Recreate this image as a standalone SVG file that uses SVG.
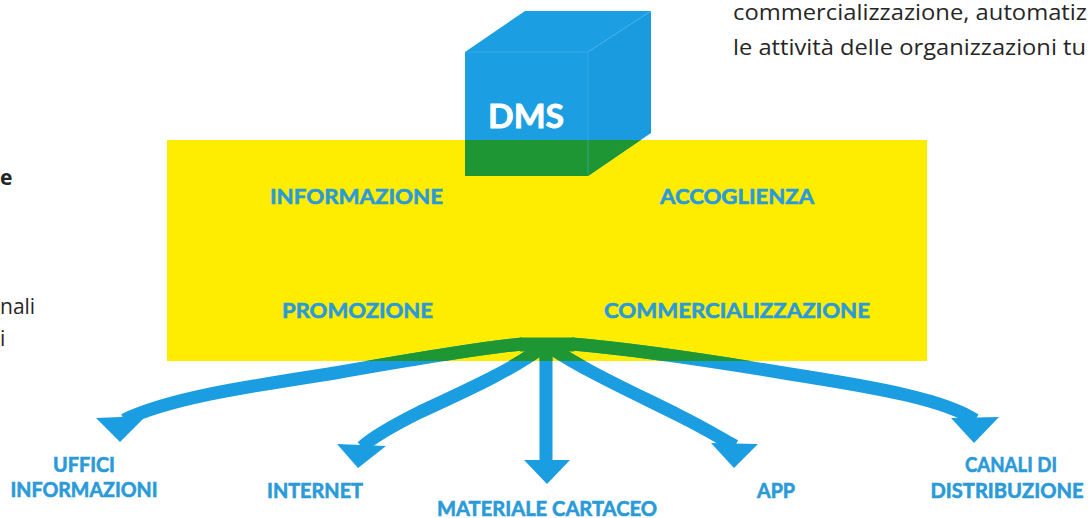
<svg xmlns="http://www.w3.org/2000/svg" width="1089" height="518" viewBox="0 0 1089 518">
  <style>
    .body { font-family: "Open Sans", "Liberation Sans", sans-serif; font-size: 21px; fill: #262626; }
    .lbl { font-family: Lato, "Liberation Sans", sans-serif; font-weight: bold; fill: #2a9ad8; stroke: #2a9ad8; stroke-width: 0.6; font-variant-ligatures: none; }
    .in { font-size: 21px; }
    .out { font-size: 20px; }
    .arm { fill: none; stroke: #1b9de1; stroke-width: 13; stroke-linecap: butt; }
    .armg { fill: none; stroke: #1e9634; stroke-width: 13; }
    .head { fill: #1b9de1; }
  </style>
  <defs>
    <clipPath id="yc"><rect x="167" y="140" width="760" height="221"/></clipPath>
  </defs>
  <rect width="1089" height="518" fill="#ffffff"/>

  <!-- background text fragments -->
  <g id="text-fragments">
    <text class="body" x="733" y="20" textLength="354" lengthAdjust="spacingAndGlyphs">commercializzazione, automatiz</text>
    <text class="body" x="733" y="55" textLength="353" lengthAdjust="spacingAndGlyphs">le attività delle organizzazioni tu</text>
    <text class="body" x="0" y="185" font-weight="bold">e</text>
    <text class="body" x="0" y="314">nali</text>
    <text class="body" x="0" y="346">i</text>
  </g>

  <!-- yellow functions block -->
  <g id="functions">
    <rect x="167" y="140" width="760" height="221" fill="#ffed00"/>
  </g>

  <!-- DMS cube -->
  <g id="dms">
    <polygon points="465,52 525,11 651,11 588,52" fill="#1c9ee3"/>
    <polygon points="588,52 651,11 651,133 588,176" fill="#1a9be0"/>
    <rect x="465" y="52" width="123" height="124" fill="#1c9ee3"/>
    <g clip-path="url(#yc)" fill="#1f9634">
      <rect x="465" y="52" width="123" height="124"/>
      <polygon points="588,52 651,11 651,133 588,176"/>
    </g>
    <polyline points="465,52 588,52 651,11" fill="none" stroke="#4db6ee" stroke-width="0.8" opacity="0.6"/>
    <line x1="588" y1="52" x2="588" y2="176" stroke="#4db6ee" stroke-width="0.8" opacity="0.6"/>
    <text x="526" y="128" text-anchor="middle" font-family="Lato, 'Liberation Sans', sans-serif" font-weight="bold" font-size="32" fill="#ffffff" stroke="#ffffff" stroke-width="0.8" textLength="76" lengthAdjust="spacingAndGlyphs">DMS</text>
  </g>

  <g id="label-informazione"><text class="lbl in" x="270" y="204" textLength="173" lengthAdjust="spacingAndGlyphs">INFORMAZIONE</text></g>
  <g id="label-accoglienza"><text class="lbl in" x="660" y="204" textLength="154" lengthAdjust="spacingAndGlyphs">ACCOGLIENZA</text></g>
  <g id="label-promozione"><text class="lbl in" x="282" y="318" textLength="151" lengthAdjust="spacingAndGlyphs">PROMOZIONE</text></g>
  <g id="label-commercializzazione"><text class="lbl in" x="604" y="318" textLength="266" lengthAdjust="spacingAndGlyphs">COMMERCIALIZZAZIONE</text></g>

  <!-- connectors -->
  <g id="connectors">
    <g id="arms-blue">
      <path class="arm" d="M522,344 C480,348 420,358 335,373 C245,387 170,398 124,420"/>
      <path class="arm" d="M546,344 C520,366 470,389 420,412 C392,426 374,436 362,447"/>
      <path class="arm" d="M546,342 L546,462"/>
      <path class="arm" d="M546,344 C575,366 630,391 680,416 C708,430 722,439 735,446"/>
      <path class="arm" d="M572,344 C620,348 700,359 790,374 C880,388 945,400 975,420"/>
    </g>
    <g id="arms-green" clip-path="url(#yc)">
      <path class="armg" d="M522,344 C480,348 420,358 335,373 C245,387 170,398 124,420"/>
      <path class="armg" d="M546,344 C520,366 470,389 420,412 C392,426 374,436 362,447"/>
      <path class="armg" d="M546,342 L546,462"/>
      <path class="armg" d="M546,344 C575,366 630,391 680,416 C708,430 722,439 735,446"/>
      <path class="armg" d="M572,344 C620,348 700,359 790,374 C880,388 945,400 975,420"/>
      <rect x="520" y="337.5" width="54" height="14" fill="#1e9634"/>
    </g>
    <polygon class="head" points="96,418 146,416 120,442"/>
    <polygon class="head" points="337,444 386,446 358,468"/>
    <polygon class="head" points="524,460 570,460 547,484"/>
    <polygon class="head" points="711,443 758,444 734,468"/>
    <polygon class="head" points="951,418 999,417 974,443"/>
  </g>

  <g id="node-uffici">
    <text class="lbl out" x="84" y="472" text-anchor="middle" textLength="62" lengthAdjust="spacingAndGlyphs">UFFICI</text>
    <text class="lbl out" x="84" y="497" text-anchor="middle" textLength="147" lengthAdjust="spacingAndGlyphs">INFORMAZIONI</text>
  </g>
  <g id="node-internet"><text class="lbl out" x="267" y="498" textLength="96" lengthAdjust="spacingAndGlyphs">INTERNET</text></g>
  <g id="node-materiale"><text class="lbl out" x="437" y="516" textLength="220" lengthAdjust="spacingAndGlyphs">MATERIALE CARTACEO</text></g>
  <g id="node-app"><text class="lbl out" x="757" y="498" textLength="38" lengthAdjust="spacingAndGlyphs">APP</text></g>
  <g id="node-canali">
    <text class="lbl out" x="1011" y="472" text-anchor="middle" textLength="92" lengthAdjust="spacingAndGlyphs">CANALI DI</text>
    <text class="lbl out" x="1007" y="498" text-anchor="middle" textLength="153" lengthAdjust="spacingAndGlyphs">DISTRIBUZIONE</text>
  </g>
</svg>
